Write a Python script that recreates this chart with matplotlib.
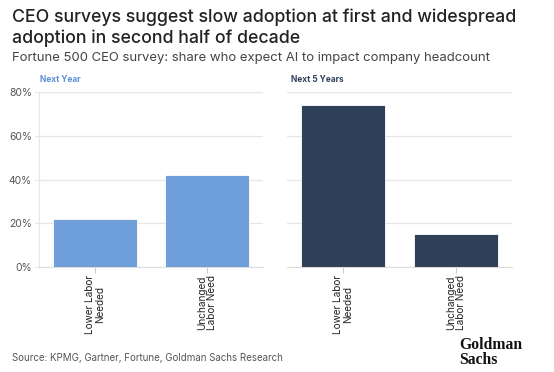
import matplotlib
matplotlib.use("Agg")
import matplotlib.pyplot as plt
from matplotlib.ticker import FuncFormatter

# datos del gráfico
categorias = ["Lower Labor\nNeeded", "Unchanged\nLabor Need"]
proximo_anio = [22, 42]
proximos_5_anios = [74, 15]
ticks_y = [0, 20, 40, 60, 80]

azul = "#6F9FDB"
marino = "#2F4159"

plt.rcParams["font.family"] = ["Inter", "DejaVu Sans"]

W, H = 554, 372
fig = plt.figure(figsize=(W / 100, H / 100), dpi=100)

def caja(x0, x1, ytop, ybot):
    return [x0 / W, 1 - ybot / H, (x1 - x0) / W, (ybot - ytop) / H]

ax1 = fig.add_axes(caja(39, 263, 92, 267))
ax2 = fig.add_axes(caja(287, 512, 92, 267))

for ax, vals, color, eje in [(ax1, proximo_anio, azul, True), (ax2, proximos_5_anios, marino, False)]:
    ax.bar(range(len(categorias)), vals, width=0.75, color=color, edgecolor="white", linewidth=0.6, zorder=3)
    ax.set_xlim(-0.5, 1.5)
    ax.set_ylim(0, 80)
    ax.set_yticks(ticks_y)
    ax.grid(axis="y", color="#E6E6E6", linewidth=0.9, zorder=0)
    ax.set_xticks(range(len(categorias)))
    ax.set_xticklabels(categorias, rotation=90, fontsize=7.2, color="#222222", linespacing=1.0)
    ax.tick_params(axis="x", length=4, color="#CCCCCC", pad=2)
    for s in ["top", "right"]:
        ax.spines[s].set_visible(False)
    ax.spines["bottom"].set_color("#DDDDDD")
    if eje:
        ax.spines["left"].set_color("#E6E6E6")
        ax.yaxis.set_major_formatter(FuncFormatter(lambda v, p: f"{v:.0f}%"))
        ax.tick_params(axis="y", length=3, color="#E6E6E6", labelsize=7.5, labelcolor="#555555", pad=2)
    else:
        ax.spines["left"].set_visible(False)
        ax.tick_params(axis="y", length=0, labelleft=False)

# títulos
fig.text(12 / W, 1 - 22 / H, "CEO surveys suggest slow adoption at first and widespread",
         fontsize=12.75, fontweight="medium", color="#222222", va="baseline")
fig.text(12 / W, 1 - 43 / H, "adoption in second half of decade",
         fontsize=12.75, fontweight="medium", color="#222222", va="baseline")
fig.text(12 / W, 1 - 61 / H, "Fortune 500 CEO survey: share who expect AI to impact company headcount",
         fontsize=9.45, color="#444444", va="baseline")
fig.text(40 / W, 1 - 80 / H, "Next Year", fontsize=6, fontweight="bold", color="#5B8FD8", va="center")
fig.text(291 / W, 1 - 80 / H, "Next 5 Years", fontsize=6, fontweight="bold", color=marino, va="center")

fig.text(12 / W, 1 - 358 / H, "Source: KPMG, Gartner, Fortune, Goldman Sachs Research",
         fontsize=7.0, color="#555555", va="center")
# logo
fig.text(459 / W, 1 - 337 / H, "Goldman\nSachs", fontsize=11.3, fontweight="bold",
         family="Liberation Serif", color="#111111", va="top", linespacing=0.95)

fig.savefig("out.png", dpi=100)
